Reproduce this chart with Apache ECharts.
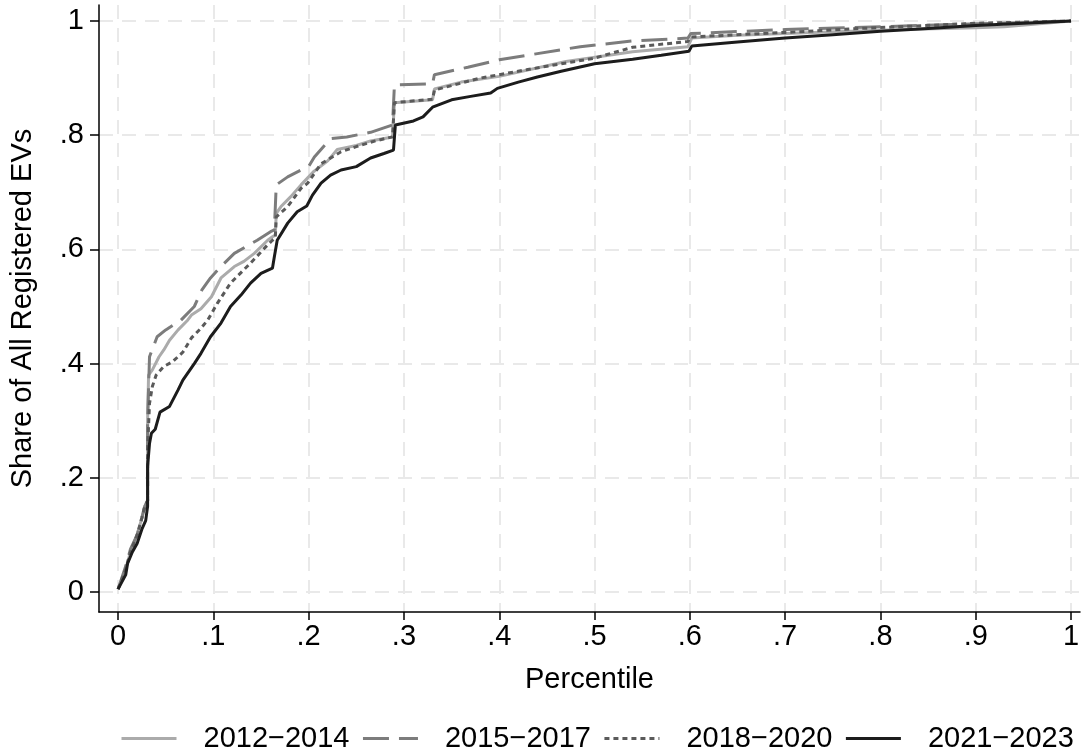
<!DOCTYPE html>
<html>
<head>
<meta charset="utf-8">
<script src="https://cdn.jsdelivr.net/npm/echarts@6/dist/echarts.min.js"></script>
<style>
html,body{margin:0;padding:0;background:#fff;}
#chart{width:1087px;height:755px;}
</style>
</head>
<body>
<div id="chart"></div>
<script>
// ---- Data ----
const seriesNames = ['2012\u22122014', '2015\u22122017', '2018\u22122020', '2021\u22122023'];

const xTicks = [0, 0.1, 0.2, 0.3, 0.4, 0.5, 0.6, 0.7, 0.8, 0.9, 1];
const xTickLabels = ['0', '.1', '.2', '.3', '.4', '.5', '.6', '.7', '.8', '.9', '1'];
const yTicks = [0, 0.2, 0.4, 0.6, 0.8, 1];
const yTickLabels = ['0', '.2', '.4', '.6', '.8', '1'];

// [percentile, cumulative share]
const data2012 = [
  [0,0.005],[0.008,0.04],[0.013,0.07],[0.02,0.1],[0.025,0.13],[0.028,0.15],[0.031,0.16],
  [0.031,0.3],[0.032,0.38],[0.036,0.389],[0.043,0.412],[0.048,0.424],[0.054,0.441],
  [0.063,0.459],[0.073,0.476],[0.077,0.485],[0.087,0.496],[0.098,0.517],[0.108,0.55],
  [0.122,0.57],[0.132,0.579],[0.143,0.593],[0.157,0.616],[0.162,0.622],[0.165,0.625],
  [0.166,0.663],[0.171,0.675],[0.181,0.692],[0.192,0.713],[0.205,0.736],[0.22,0.755],
  [0.23,0.775],[0.25,0.782],[0.265,0.79],[0.288,0.797],[0.29,0.857],[0.33,0.862],
  [0.332,0.881],[0.36,0.893],[0.4,0.903],[0.47,0.929],[0.54,0.946],[0.598,0.955],
  [0.602,0.97],[0.65,0.975],[0.7,0.978],[0.8,0.984],[0.9,0.988],[0.93,0.99],[1,1]
];
const data2015 = [
  [0,0.005],[0.008,0.045],[0.013,0.075],[0.02,0.1],[0.025,0.13],[0.028,0.15],[0.031,0.16],
  [0.031,0.3],[0.033,0.412],[0.041,0.447],[0.05,0.459],[0.066,0.476],[0.08,0.5],
  [0.088,0.529],[0.097,0.55],[0.108,0.57],[0.122,0.593],[0.146,0.616],[0.16,0.631],
  [0.164,0.634],[0.166,0.713],[0.178,0.727],[0.192,0.739],[0.2,0.745],[0.206,0.762],
  [0.223,0.794],[0.24,0.797],[0.265,0.805],[0.288,0.818],[0.29,0.888],[0.33,0.89],
  [0.332,0.906],[0.367,0.919],[0.4,0.932],[0.485,0.955],[0.54,0.965],[0.598,0.97],
  [0.601,0.978],[0.7,0.985],[0.8,0.99],[0.9,0.995],[1,1]
];
const data2018 = [
  [0,0.005],[0.008,0.04],[0.013,0.07],[0.02,0.1],[0.025,0.13],[0.028,0.15],[0.031,0.16],
  [0.031,0.25],[0.033,0.33],[0.036,0.36],[0.04,0.38],[0.048,0.395],[0.057,0.403],
  [0.068,0.42],[0.077,0.445],[0.087,0.462],[0.094,0.476],[0.104,0.505],[0.118,0.541],
  [0.139,0.576],[0.157,0.608],[0.162,0.616],[0.165,0.62],[0.166,0.657],[0.178,0.675],
  [0.192,0.707],[0.199,0.716],[0.213,0.75],[0.234,0.771],[0.25,0.78],[0.27,0.79],
  [0.288,0.797],[0.29,0.857],[0.33,0.863],[0.332,0.879],[0.38,0.9],[0.43,0.915],
  [0.5,0.935],[0.54,0.954],[0.598,0.964],[0.601,0.972],[0.7,0.98],[0.78,0.987],
  [0.9,0.996],[1,1]
];
const data2021 = [
  [0,0.005],[0.008,0.03],[0.01,0.05],[0.015,0.07],[0.02,0.085],[0.025,0.11],[0.029,0.125],
  [0.031,0.15],[0.031,0.22],[0.033,0.26],[0.035,0.278],[0.039,0.285],[0.044,0.315],
  [0.054,0.325],[0.063,0.354],[0.068,0.371],[0.08,0.4],[0.087,0.418],[0.097,0.447],
  [0.108,0.471],[0.118,0.5],[0.129,0.52],[0.139,0.541],[0.15,0.558],[0.162,0.567],
  [0.164,0.587],[0.167,0.616],[0.178,0.646],[0.188,0.666],[0.198,0.676],[0.204,0.695],
  [0.213,0.716],[0.223,0.73],[0.234,0.739],[0.25,0.745],[0.265,0.76],[0.279,0.768],
  [0.289,0.774],[0.291,0.818],[0.31,0.825],[0.32,0.832],[0.33,0.849],[0.35,0.862],
  [0.37,0.868],[0.391,0.874],[0.398,0.882],[0.42,0.893],[0.44,0.902],[0.465,0.912],
  [0.5,0.925],[0.54,0.933],[0.57,0.94],[0.599,0.947],[0.602,0.956],[0.65,0.963],
  [0.7,0.97],[0.75,0.976],[0.8,0.982],[0.85,0.987],[0.9,0.992],[0.95,0.996],[1,1]
];
const seriesData = [data2012, data2015, data2018, data2021];

// ---- Styles ----
const colors = ['#ababab', '#7c7c7c', '#5a5a5a', '#1c1c1c'];
const dashes = ['solid', [26, 10], [5, 4], 'solid'];
const FONT = 'Liberation Sans, Arial, Helvetica, sans-serif';
const FS = 29;

const xLabelMap = {};
xTicks.forEach((v, i) => xLabelMap[v.toFixed(2)] = xTickLabels[i]);
const yLabelMap = {};
yTicks.forEach((v, i) => yLabelMap[v.toFixed(2)] = yTickLabels[i]);

const gridLine = { show: true, lineStyle: { color: '#e9e9e9', width: 2, type: [14, 9] } };

const chart = echarts.init(document.getElementById('chart'), null, { renderer: 'canvas' });
chart.setOption({
  animation: false,
  backgroundColor: '#fff',
  grid: { left: 98, right: 7, top: 5, bottom: 143, containLabel: false },
  xAxis: {
    type: 'value', min: -0.02, max: 1.0094,
    name: 'Percentile', nameLocation: 'middle', nameGap: 53,
    nameTextStyle: { fontFamily: FONT, fontSize: FS, color: '#000' },
    axisLine: { show: true, onZero: false, lineStyle: { color: '#000', width: 1.5 } },
    axisTick: { show: true, customValues: xTicks, length: 8, lineStyle: { color: '#000', width: 1.5 } },
    axisLabel: { customValues: xTicks, margin: 10, fontFamily: FONT, fontSize: FS, color: '#000',
      formatter: v => xLabelMap[Number(v).toFixed(2)] },
    splitLine: gridLine
  },
  yAxis: {
    type: 'value', min: -0.035, max: 1.028,
    name: 'Share of All Registered EVs', nameLocation: 'middle', nameGap: 62,
    nameTextStyle: { fontFamily: FONT, fontSize: FS, color: '#000' },
    axisLine: { show: true, onZero: false, lineStyle: { color: '#000', width: 1.5 } },
    axisTick: { show: true, customValues: yTicks, length: 9, lineStyle: { color: '#000', width: 1.5 } },
    axisLabel: { customValues: yTicks, margin: 15, fontFamily: FONT, fontSize: FS, color: '#000',
      formatter: v => yLabelMap[Number(v).toFixed(2)] },
    splitLine: gridLine
  },
  legend: {
    bottom: -3, left: 115, width: 970, itemWidth: 55, itemHeight: 14, itemGap: 12,
    itemStyle: { opacity: 0, borderWidth: 0 },
    lineStyle: { width: 3 },
    textStyle: { fontFamily: FONT, fontSize: FS, color: '#000', padding: [0, 0, 0, 22] },
    data: seriesNames
  },
  series: seriesNames.map((n, i) => ({
    name: n, type: 'line', data: seriesData[i],
    showSymbol: false, symbol: 'none', z: 2 + i,
    color: colors[i],
    lineStyle: { color: colors[i], width: 3, type: dashes[i], cap: 'butt' },
    emphasis: { disabled: true }
  }))
});
</script>
</body>
</html>
